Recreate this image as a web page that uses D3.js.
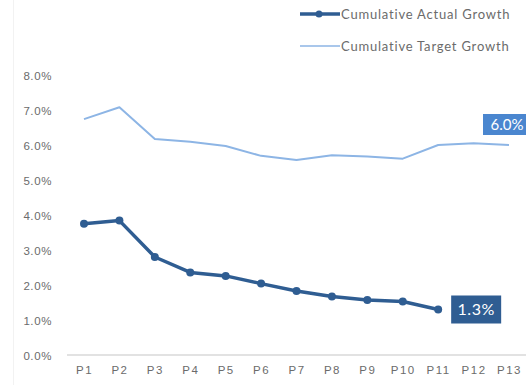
<!DOCTYPE html>
<html>
<head>
<meta charset="utf-8">
<script src="https://cdn.jsdelivr.net/npm/d3@7/dist/d3.min.js"></script>
<style>
  html, body { margin: 0; padding: 0; background: #fff; }
  svg { display: block; font-family: "Lato", "Open Sans", sans-serif; }
</style>
</head>
<body>
<svg id="chart" width="526" height="385"></svg>
<script>
// Periods and cumulative growth (%)
const periods = ["P1","P2","P3","P4","P5","P6","P7","P8","P9","P10","P11","P12","P13"];
const actualGrowth = [3.75, 3.84, 2.80, 2.36, 2.26, 2.04, 1.83, 1.67, 1.57, 1.53, 1.30];
const targetGrowth = [6.74, 7.08, 6.17, 6.09, 5.97, 5.69, 5.57, 5.71, 5.67, 5.61, 6.00, 6.05, 6.00];
const yTicks = [0, 1, 2, 3, 4, 5, 6, 7, 8];

const svg = d3.select("#chart");
const W = 526, H = 385;

const x = d3.scalePoint().domain(periods).range([84, 509]);
const y = d3.scaleLinear().domain([0, 8]).range([355, 75]);

const darkBlue = "#2f5d92";
const lightBlue = "#8db5e5";
const labelBlue = "#4a86cf";
const textGray = "#6b6b6b";

// faint chart-area edge
svg.append("line").attr("x1", 13.5).attr("x2", 13.5).attr("y1", 0).attr("y2", H)
  .attr("stroke", "#f2f2f2").attr("stroke-width", 1);

// y axis labels
const yAxis = d3.axisLeft(y).tickValues(yTicks).tickSize(0).tickPadding(0)
  .tickFormat(d => d.toFixed(1) + "%");
const gy = svg.append("g").attr("transform", "translate(52,0)").call(yAxis);
gy.select(".domain").remove();
gy.selectAll("text").attr("fill", textGray).attr("font-size", 11.5)
  .attr("letter-spacing", "0.6px").attr("dy", "0.35em");

// baseline
svg.append("line").attr("x1", 67).attr("x2", W).attr("y1", y(0)).attr("y2", y(0))
  .attr("stroke", "#d9d9d9").attr("stroke-width", 1.5);

// x axis labels
const xAxis = d3.axisBottom(x).tickSize(0).tickPadding(0);
const gx = svg.append("g").attr("transform", "translate(0,370)").call(xAxis);
gx.select(".domain").remove();
gx.selectAll("text").attr("fill", textGray).attr("font-size", 11.5)
  .attr("letter-spacing", "1.5px").attr("dy", "0.35em");

const line = d3.line().x((d, i) => x(periods[i])).y(d => y(d));

// target line
svg.append("path").datum(targetGrowth).attr("d", line)
  .attr("fill", "none").attr("stroke", lightBlue).attr("stroke-width", 2)
  .attr("stroke-linejoin", "round");

// actual line with markers
svg.append("path").datum(actualGrowth).attr("d", line)
  .attr("fill", "none").attr("stroke", darkBlue).attr("stroke-width", 3.5)
  .attr("stroke-linejoin", "round");
svg.selectAll("circle.pt").data(actualGrowth).join("circle").attr("class", "pt")
  .attr("cx", (d, i) => x(periods[i])).attr("cy", d => y(d)).attr("r", 4)
  .attr("fill", darkBlue);

// end labels
const lastA = actualGrowth.length - 1;
const ax = x(periods[lastA]), ay = y(actualGrowth[lastA]);
svg.append("rect").attr("x", ax + 13).attr("y", ay - 14).attr("width", 50).attr("height", 28)
  .attr("fill", darkBlue);
svg.append("text").attr("x", ax + 38).attr("y", ay).attr("dy", "0.36em")
  .attr("text-anchor", "middle").attr("fill", "#fff").attr("font-size", 16)
  .attr("letter-spacing", "0.5px")
  .text(actualGrowth[lastA].toFixed(1) + "%");

const lastT = targetGrowth.length - 1;
const tx = x(periods[lastT]), ty = y(targetGrowth[lastT]);
svg.append("rect").attr("x", tx - 26).attr("y", ty - 31).attr("width", 48).attr("height", 21)
  .attr("fill", labelBlue);
svg.append("text").attr("x", tx - 2).attr("y", ty - 20.5).attr("dy", "0.36em")
  .attr("text-anchor", "middle").attr("fill", "#fff").attr("font-size", 15)
  .text(targetGrowth[lastT].toFixed(1) + "%");

// legend
const legend = [
  { name: "Cumulative Actual Growth", color: darkBlue, w: 3.5, marker: true, y: 14 },
  { name: "Cumulative Target Growth", color: lightBlue, w: 1.5, marker: false, y: 46 }
];
const lg = svg.append("g");
legend.forEach(l => {
  lg.append("line").attr("x1", 300).attr("x2", 340).attr("y1", l.y).attr("y2", l.y)
    .attr("stroke", l.color).attr("stroke-width", l.w);
  if (l.marker) lg.append("circle").attr("cx", 319).attr("cy", l.y).attr("r", 3.5).attr("fill", l.color);
  lg.append("text").attr("x", 341).attr("y", l.y).attr("dy", "0.35em")
    .attr("fill", textGray).attr("font-size", 13).attr("letter-spacing", "0.8px").text(l.name);
});
</script>
</body>
</html>
